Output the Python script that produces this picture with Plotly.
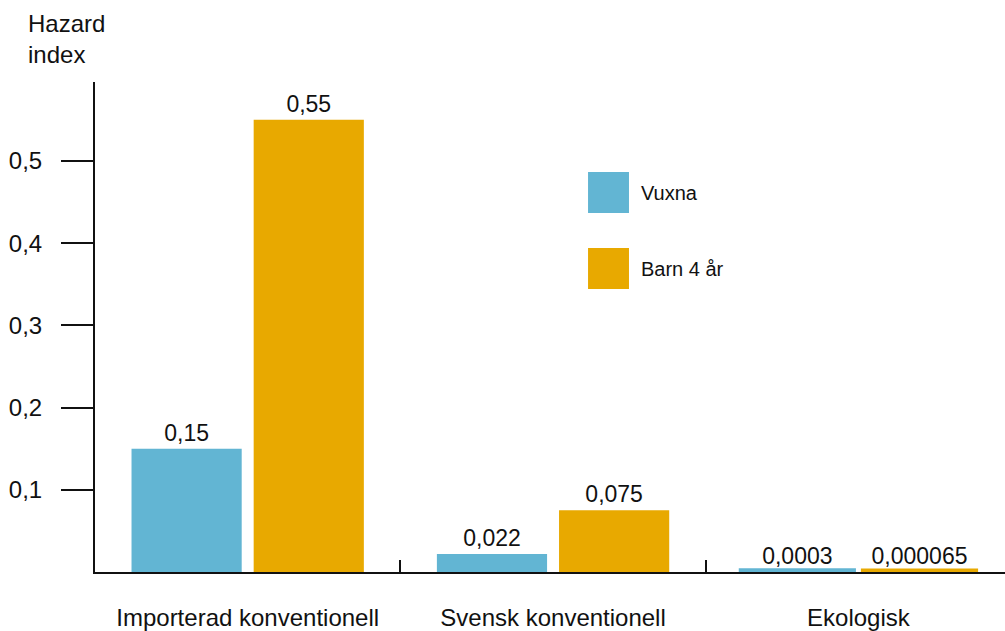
import plotly.graph_objects as go

categories = ["Importerad konventionell", "Svensk konventionell", "Ekologisk"]
vuxna = [0.15, 0.022, 0.0003]
barn = [0.55, 0.075, 0.000065]
series_names = ["Vuxna", "Barn 4 år"]
y_ticks = [0.1, 0.2, 0.3, 0.4, 0.5]
y_title = "Hazard<br>index"

BLUE = "#62B5D3"
ORANGE = "#E8A900"
FONT = "Liberation Sans, Arial, Helvetica, sans-serif"


def fmt(v):
    return ("%.6f" % v).rstrip("0").replace(".", ",")


def thin_visible(vals):
    # make near-zero bars visible as a thin strip
    return [7 if v < 0.001 else 0 for v in vals]


fig = go.Figure()
for name, vals, col in [(series_names[0], vuxna, BLUE), (series_names[1], barn, ORANGE)]:
    fig.add_trace(go.Bar(
        x=categories, y=vals, name=name,
        marker=dict(color=col, line=dict(color=col, width=thin_visible(vals))),
        text=[fmt(v) for v in vals], textposition="outside",
        textfont=dict(size=23, color="#111", family=FONT),
        cliponaxis=False, showlegend=False,
    ))

# manual legend (large squares)
legend_items = [(series_names[0], BLUE, 0.8163), (series_names[1], ORANGE, 0.6612)]
for name, col, ytop in legend_items:
    fig.add_shape(type="rect", xref="paper", yref="paper",
                  x0=0.5418, x1=0.5868, y0=ytop - 0.0837, y1=ytop,
                  fillcolor=col, line=dict(width=0))
    fig.add_annotation(xref="paper", yref="paper", x=0.5978, y=ytop - 0.042,
                       xanchor="left", yanchor="middle", text=name, showarrow=False,
                       font=dict(size=20, color="#111", family=FONT))

fig.add_annotation(xref="paper", yref="paper", x=-0.0758, y=1.151,
                   xanchor="left", yanchor="top", text=y_title, showarrow=False,
                   align="left", font=dict(size=24, color="#111", family=FONT))

fig.update_layout(
    width=1005, height=631,
    margin=dict(l=95, r=0, t=82, b=59),
    paper_bgcolor="white", plot_bgcolor="white",
    barmode="group", bargap=0.2, bargroupgap=0.098,
    separators=", ",
    font=dict(family=FONT, color="#111"),
    xaxis=dict(
        type="category", range=[-0.5, 2.48], automargin=False,
        showline=True, linecolor="#111", linewidth=2,
        ticks="inside", tickson="boundaries", ticklen=12, tickwidth=2, tickcolor="#111",
        tickfont=dict(size=24, color="#111", family=FONT),
        ticklabelstandoff=23, showgrid=False, zeroline=False,
    ),
    yaxis=dict(
        range=[0, 0.596], automargin=False,
        showline=True, linecolor="#111", linewidth=2,
        tickmode="array", tickvals=y_ticks,
        ticks="outside", ticklen=32, tickwidth=2, tickcolor="#111",
        tickfont=dict(size=24, color="#111", family=FONT),
        ticklabelstandoff=14, showgrid=False, zeroline=False,
    ),
)

fig.write_html("out.html", config={"displayModeBar": False},
               post_script="document.body.style.margin='0';")
